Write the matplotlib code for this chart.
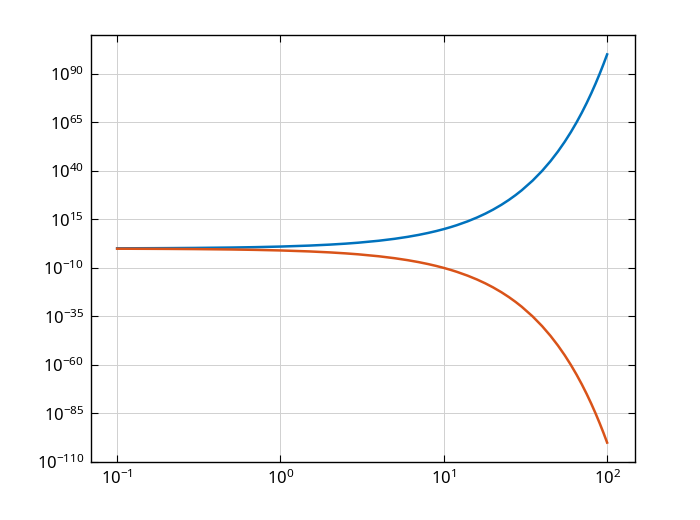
import matplotlib
matplotlib.use("Agg")
import matplotlib.pyplot as plt
from matplotlib.ticker import FixedLocator, FuncFormatter, NullLocator
import numpy as np

# x values and the exponent (log10 of y) of both curves
x = [0.1, 0.15, 0.2, 0.3, 0.5, 0.7, 1, 1.5, 2, 2.5, 3, 4, 5, 6, 7, 8, 9, 10, 11, 12, 14,
     16, 18, 20, 22.5, 25, 27.5, 30, 35, 40, 45, 50, 55, 60, 65, 70, 75, 80, 85, 90, 95, 100]
up_exp = [0.1, 0.15, 0.2, 0.3, 0.5, 0.7, 1, 1.5, 2, 2.5, 3, 4, 5, 6, 7, 8, 9, 10, 11, 12, 14,
          16, 18, 20, 22.5, 25, 27.5, 30, 35, 40, 45, 50, 55, 60, 65, 70, 75, 80, 85, 90, 95, 100]
down_exp = [-0.1, -0.15, -0.2, -0.3, -0.5, -0.7, -1, -1.5, -2, -2.5, -3, -4, -5, -6, -7, -8, -9,
            -10, -11, -12, -14, -16, -18, -20, -22.5, -25, -27.5, -30, -35, -40, -45, -50, -55,
            -60, -65, -70, -75, -80, -85, -90, -95, -100]
yticks_exp = [-110, -85, -60, -35, -10, 15, 40, 65, 90]
xticks_exp = [-1, 0, 1, 2]

plt.rcParams['font.family'] = ['Noto Sans', 'DejaVu Sans']
plt.rcParams['mathtext.fontset'] = 'custom'
plt.rcParams['mathtext.rm'] = 'Noto Sans'

fig = plt.figure(figsize=(7, 5.2), dpi=100)
ax = fig.add_axes([0.13, 0.1115, 0.777, 0.8212])

y_up = [10.0 ** e for e in up_exp]
y_down = [10.0 ** e for e in down_exp]
ax.plot(x, y_up, color='#0072BD', lw=1.8)
ax.plot(x, y_down, color='#D95319', lw=1.8)

ax.set_xscale('log')
ax.set_yscale('log')
ax.set_xlim(10 ** -1.16, 10 ** 2.17)
ax.set_ylim(1e-110, 1e110)

ax.xaxis.set_major_locator(FixedLocator([10.0 ** e for e in xticks_exp]))
ax.yaxis.set_major_locator(FixedLocator([10.0 ** e for e in yticks_exp]))
ax.xaxis.set_minor_locator(NullLocator())
ax.yaxis.set_minor_locator(NullLocator())
fmt = FuncFormatter(lambda v, p: r'$\mathregular{10^{%d}}$' % round(np.log10(v)))
ax.xaxis.set_major_formatter(fmt)
ax.yaxis.set_major_formatter(fmt)

ax.tick_params(direction='in', top=True, right=True, length=5, width=0.8,
               labelsize=12, pad=5)
ax.grid(True, color='#d0d0d0', lw=0.7)
ax.set_axisbelow(True)
for s in ax.spines.values():
    s.set_linewidth(1.0)

fig.savefig('out.png', dpi=100)
